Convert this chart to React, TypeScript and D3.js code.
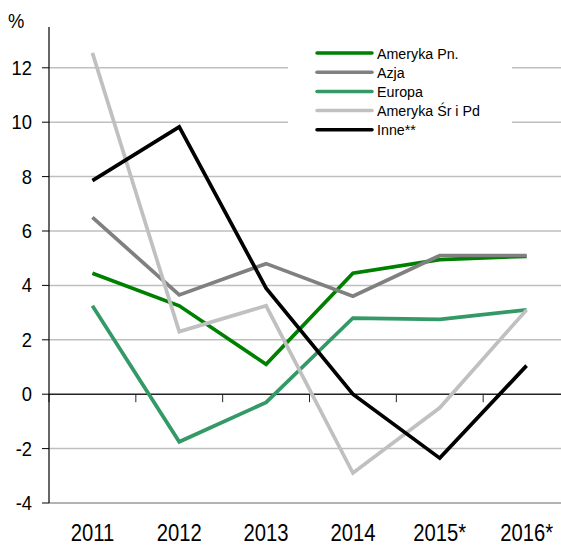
import React from "react";
import * as d3 from "d3";

const categories = ["2011", "2012", "2013", "2014", "2015*", "2016*"];
const seriesNames = ["Ameryka Pn.", "Azja", "Europa", "Ameryka Śr i Pd", "Inne**"];
const seriesColors = ["#008000", "#808080", "#339966", "#c0c0c0", "#000000"];
const amerykaPn = [4.45, 3.25, 1.1, 4.45, 4.95, 5.07];
const azja = [6.5, 3.65, 4.8, 3.6, 5.1, 5.1];
const europa = [3.25, -1.75, -0.3, 2.8, 2.75, 3.1];
const amerykaSrPd = [12.55, 2.3, 3.25, -2.9, -0.5, 3.1];
const inne = [7.85, 9.83, 3.9, 0.0, -2.35, 1.05];
const yTicks = [-4, -2, 0, 2, 4, 6, 8, 10, 12];

const seriesValues = [amerykaPn, azja, europa, amerykaSrPd, inne];

const W = 561;
const H = 548;
const FONT = "'Liberation Sans', Arial, sans-serif";

export default function App() {
  const x = d3.scaleBand<string>().domain(categories).range([49, 570]).padding(0);
  const y = d3.scaleLinear().domain([-4, 13.5]).range([503, 27]);
  const cx = (c: string) => (x(c) as number) + x.bandwidth() / 2;
  const line = d3
    .line<number>()
    .x((_, i) => cx(categories[i]))
    .y((d) => y(d));

  const boundaries = categories.map((c) => x(c) as number).concat([570]);

  return (
    <svg
      width={W}
      height={H}
      style={{ position: "absolute", left: 0, top: 0, background: "#fff" }}
      fontFamily={FONT}
    >
      {yTicks
        .filter((t) => t !== 0)
        .map((t) => (
          <line
            key={"g" + t}
            x1={49}
            x2={W}
            y1={y(t)}
            y2={y(t)}
            stroke={t === -4 ? "#9a9a9a" : "#bfbfbf"}
            strokeWidth={1.5}
          />
        ))}
      <rect x={288} y={34} width={224} height={104} fill="#fff" />
      <line x1={49} x2={W} y1={y(0)} y2={y(0)} stroke="#222" strokeWidth={1.5} />
      {boundaries.map((b, i) => (
        <line key={"xt" + i} x1={b} x2={b} y1={y(0)} y2={y(0) + 8} stroke="#222" strokeWidth={1} />
      ))}
      <line x1={49} x2={49} y1={27} y2={y(-4)} stroke="#000" strokeWidth={1.2} />
      {yTicks.map((t) => (
        <g key={"yt" + t}>
          <line x1={42} x2={49} y1={y(t)} y2={y(t)} stroke="#000" strokeWidth={1} />
          <g transform={`translate(32,${y(t) + 7}) scale(0.92,1)`}>
            <text textAnchor="end" fontSize={20} fill="#000">
              {t}
            </text>
          </g>
        </g>
      ))}
      <g transform={`translate(8,28) scale(0.92,1)`}>
        <text fontSize={20} fill="#000">
          %
        </text>
      </g>
      {categories.map((c) => (
        <g key={"xl" + c} transform={`translate(${cx(c)},541) scale(0.88,1)`}>
          <text textAnchor="middle" fontSize={23} fill="#000">
            {c}
          </text>
        </g>
      ))}
      {seriesValues.map((vals, i) => (
        <path
          key={"s" + i}
          d={line(vals) as string}
          fill="none"
          stroke={seriesColors[i]}
          strokeWidth={3.7}
          strokeLinejoin="miter"
        />
      ))}
      {seriesNames.map((n, i) => {
        const ly = 53 + i * 19.2;
        return (
          <g key={"lg" + i}>
            <line x1={317} x2={372} y1={ly} y2={ly} stroke={seriesColors[i]} strokeWidth={3.5} strokeLinecap="round" />
            <g transform={`translate(377,${ly + 5.5}) scale(0.92,1)`}>
              <text fontSize={15.5} fill="#000">
                {n}
              </text>
            </g>
          </g>
        );
      })}
    </svg>
  );
}
